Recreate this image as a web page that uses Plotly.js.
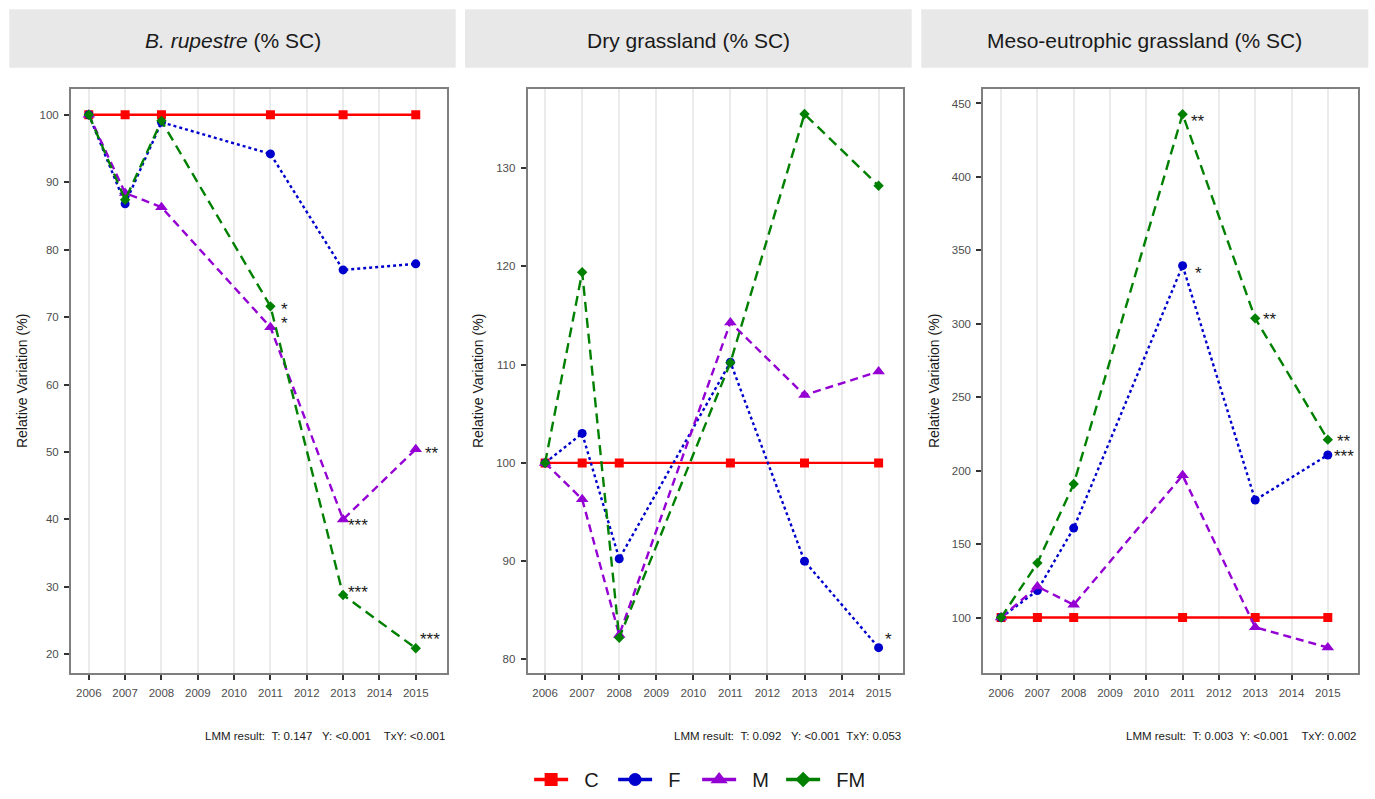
<!DOCTYPE html>
<html>
<head>
<meta charset="utf-8">
<script src="https://cdn.plot.ly/plotly-3.0.1.min.js"></script>
<style>html,body{margin:0;padding:0;background:#fff;}#chart{width:1375px;height:799px;}</style>
</head>
<body>
<div id="chart"></div>
<script>
// ---------- DATA ----------
const years = [2006, 2007, 2008, 2011, 2013, 2015];
const tickYears = [2006, 2007, 2008, 2009, 2010, 2011, 2012, 2013, 2014, 2015];
const groups = ['C', 'F', 'M', 'FM'];
const panelTitles = ['<i>B. rupestre</i> (% SC)', 'Dry grassland (% SC)', 'Meso-eutrophic grassland (% SC)'];
const lmmTexts = [
  'LMM result:  T: 0.147   Y: <0.001    TxY: <0.001',
  'LMM result:  T: 0.092   Y: <0.001  TxY: 0.053',
  'LMM result:  T: 0.003  Y: <0.001    TxY: 0.002'
];

// Panel 1: B. rupestre
const rup_C  = [100, 100, 100, 100, 100, 100];
const rup_F  = [100, 86.8, 98.9, 94.2, 77.0, 77.9];
const rup_M  = [100, 88.4, 86.3, 68.5, 40.0, 50.4];
const rup_FM = [100, 87.4, 99.1, 71.6, 28.8, 20.9];
const rup_sig_F  = ['', '', '', '', '', ''];
const rup_sig_M  = ['', '', '', '*', '***', '**'];
const rup_sig_FM = ['', '', '', '*', '***', '***'];

// Panel 2: Dry grassland
const dry_C  = [100, 100, 100, 100, 100, 100];
const dry_F  = [100, 103.0, 90.25, 110.25, 90.0, 81.2];
const dry_M  = [100, 96.3, 82.5, 114.3, 106.9, 109.3];
const dry_FM = [100, 119.4, 82.2, 110.2, 135.5, 128.2];
const dry_sig_F  = ['', '', '', '', '', '*'];
const dry_sig_M  = ['', '', '', '', '', ''];
const dry_sig_FM = ['', '', '', '', '', ''];

// Panel 3: Meso-eutrophic grassland
const meso_C  = [100, 100, 100, 100, 100, 100];
const meso_F  = [100, 118.4, 160.9, 339.6, 180.0, 210.7];
const meso_M  = [100, 121.1, 108.7, 196.8, 93.4, 79.6];
const meso_FM = [100, 137.1, 190.9, 442.7, 303.7, 221.1];
const meso_sig_F  = ['', '', '', '*', '', '***'];
const meso_sig_M  = ['', '', '', '', '', ''];
const meso_sig_FM = ['', '', '', '**', '**', '**'];

// ---------- STYLE / LAYOUT ----------
const panels = [
  {C: rup_C, F: rup_F, M: rup_M, FM: rup_FM, sig: {F: rup_sig_F, M: rup_sig_M, FM: rup_sig_FM},
   xdom: [71/1375, 447/1375], xr: [2005.51, 2015.86], yr: [17.2, 103.9], dt: 10},
  {C: dry_C, F: dry_F, M: dry_M, FM: dry_FM, sig: {F: dry_sig_F, M: dry_sig_M, FM: dry_sig_FM},
   xdom: [527.7/1375, 902.7/1375], xr: [2005.53, 2015.65], yr: [78.6, 138.1], dt: 10},
  {C: meso_C, F: meso_F, M: meso_M, FM: meso_FM, sig: {F: meso_sig_F, M: meso_sig_M, FM: meso_sig_FM},
   xdom: [983.3/1375, 1358.3/1375], xr: [2005.51, 2015.84], yr: [62.1, 460.2], dt: 50}
];
const headerBoxes = [[9.3, 455.7], [465, 911.7], [921.3, 1368.3]];
const ydom = [1 - 673.2/799, 1 - 88.5/799];

const styles = {
  C:  {color: '#FF0000', dash: 'solid',      symbol: 'square',       size: 9},
  F:  {color: '#0000CD', dash: '3px,3px',    symbol: 'circle',       size: 9},
  M:  {color: '#9400D3', dash: '8px,5px',    symbol: 'triangle-up',  size: 11},
  FM: {color: '#008000', dash: '10px,6px',   symbol: 'diamond',      size: 8}
};

// per-label nudges (pixels): [panel, group, yearIndex] -> [dx, dy(down)]
const nudges = {
  '0-FM-3': [9, -1], '0-M-3': [9, -8], '0-M-4': [3, 2], '0-FM-4': [3, -7], '0-FM-5': [2, -13], '0-M-5': [7, 0],
  '1-F-5': [4, -13],
  '2-FM-3': [6, 3], '2-F-3': [10, 3], '2-FM-4': [6, -3], '2-FM-5': [7, -3], '2-F-5': [4, -3]
};

const nbsp = s => s.replace(/ /g, '&nbsp;');

const traces = [];
const annotations = [];
const shapes = [];
const layout = {
  width: 1375, height: 799,
  margin: {l: 0, r: 0, t: 0, b: 0},
  paper_bgcolor: '#ffffff', plot_bgcolor: '#ffffff',
  font: {family: 'Liberation Sans, Arial, sans-serif', color: '#1a1a1a'},
  showlegend: true,
  legend: {orientation: 'h', x: 0.507, xanchor: 'center', y: 0, yanchor: 'bottom',
           font: {size: 20, color: '#1a1a1a'}, itemwidth: 34,
           entrywidth: 35, entrywidthmode: 'pixels', traceorder: 'normal', bgcolor: 'rgba(0,0,0,0)'},
  annotations: annotations,
  shapes: shapes
};

panels.forEach((p, i) => {
  const xa = 'xaxis' + (i === 0 ? '' : i + 1);
  const ya = 'yaxis' + (i === 0 ? '' : i + 1);
  const xref = 'x' + (i === 0 ? '' : i + 1);
  const yref = 'y' + (i === 0 ? '' : i + 1);
  layout[xa] = {
    domain: p.xdom, range: p.xr, anchor: yref,
    tickmode: 'array', tickvals: tickYears, ticktext: tickYears.map(String),
    showgrid: true, gridcolor: '#ebebeb', gridwidth: 2,
    zeroline: false, showline: true, mirror: true, linecolor: '#7f7f7f', linewidth: 2,
    ticks: 'outside', ticklen: 5, tickwidth: 2, tickcolor: '#333333', ticklabelstandoff: 3,
    tickfont: {size: 11.5, color: '#4d4d4d'}, automargin: false, fixedrange: true
  };
  layout[ya] = {
    domain: ydom, range: p.yr, anchor: xref, dtick: p.dt,
    showgrid: false, zeroline: false, showline: true, mirror: true, linecolor: '#7f7f7f', linewidth: 2,
    ticks: 'outside', ticklen: 5, tickwidth: 2, tickcolor: '#333333', ticklabelstandoff: 3,
    tickfont: {size: 11.5, color: '#4d4d4d'}, automargin: false, fixedrange: true,
    title: {text: 'Relative Variation (%)', font: {size: 14, color: '#1a1a1a'}, standoff: 9}
  };
  groups.forEach(g => {
    const s = styles[g];
    traces.push({
      x: years, y: p[g], xaxis: xref, yaxis: yref, type: 'scatter', mode: 'lines+markers',
      name: g, legendgroup: g, showlegend: false,
      line: {color: s.color, width: 2.4, dash: s.dash},
      marker: {color: s.color, symbol: s.symbol, size: s.size, line: {width: 0}},
      hoverinfo: 'skip'
    });
    if (p.sig[g]) {
      p.sig[g].forEach((lab, k) => {
        if (!lab) return;
        const n = nudges[i + '-' + g + '-' + k] || [6, 0];
        annotations.push({
          x: years[k], y: p[g][k], xref: xref, yref: yref, text: lab, showarrow: false,
          xanchor: 'left', yanchor: 'middle', xshift: n[0], yshift: -n[1] - 4.5,
          font: {size: 17, color: '#1a1a1a'}
        });
      });
    }
  });
  // header strip
  const hb = headerBoxes[i];
  shapes.push({type: 'rect', xref: 'paper', yref: 'paper', x0: hb[0]/1375, x1: hb[1]/1375,
               y0: 1 - 67.7/799, y1: 1 - 9.3/799, fillcolor: '#e8e8e8', line: {width: 0}, layer: 'below'});
  annotations.push({xref: 'paper', yref: 'paper', x: (hb[0] + hb[1]) / 2 / 1375, y: 1 - 40/799,
                    text: panelTitles[i], showarrow: false, xanchor: 'center', yanchor: 'middle',
                    font: {size: 21, color: '#1a1a1a'}});
  // LMM result
  annotations.push({xref: 'paper', yref: 'paper', x: p.xdom[1], y: 1 - 736/799,
                    text: nbsp(lmmTexts[i]), showarrow: false, xanchor: 'right', yanchor: 'middle',
                    font: {size: 11.5, color: '#1a1a1a'}});
});

// legend entries (solid lines, as in the reference key)
groups.forEach(g => {
  const s = styles[g];
  traces.push({
    x: [null], y: [null], xaxis: 'x', yaxis: 'y', type: 'scatter', mode: 'lines+markers',
    name: '&nbsp;&nbsp;' + g, legendgroup: g, showlegend: true,
    line: {color: s.color, width: 3.5, dash: 'solid'},
    marker: {color: s.color, symbol: s.symbol, size: s.size + 4, line: {width: 0}},
    hoverinfo: 'skip'
  });
});

Plotly.newPlot('chart', traces, layout, {staticPlot: true, displayModeBar: false});
</script>
</body>
</html>
